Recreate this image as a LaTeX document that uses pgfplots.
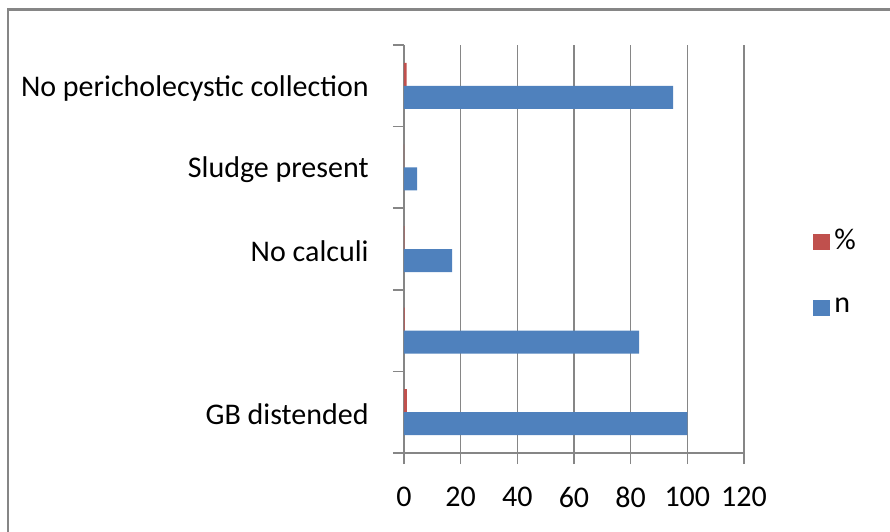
\documentclass[border=0pt]{standalone}
\usepackage{fontspec}
\setmainfont{Carlito}
\usepackage{pgfplots}
\pgfplotsset{compat=1.18}
\definecolor{exred}{HTML}{C0504D}
\definecolor{exblue}{HTML}{4F81BD}
\definecolor{axgray}{HTML}{868686}
\begin{document}
\fontsize{15pt}{18pt}\selectfont
\begin{tikzpicture}
\useasboundingbox (-202pt,-39pt) rectangle (243pt,226.5pt);
\begin{axis}[
  at={(0,0)}, anchor=south west,
  scale only axis, width=170pt, height=204pt,
  xbar, bar width=11.5pt,
  xmin=0, xmax=120, ymin=-0.5, ymax=4.5,
  xtick={0,20,...,120},
  ytick={0,1,2,3,4},
  yticklabels={GB distended,,No calculi,Sludge present,No pericholecystic collection},
  minor ytick={-0.5,0.5,1.5,2.5,3.5,4.5},
  tick align=outside,
  major tick length=5.5pt, minor tick length=5.5pt,
  major y tick style={draw=none},
  minor y tick style={draw=axgray, line width=0.8pt},
  major x tick style={draw=axgray, line width=0.8pt},
  axis x line*=bottom, axis y line*=left,
  axis line style={draw=axgray, line width=0.8pt, -},
  xmajorgrids, major grid style={draw=axgray, line width=0.8pt},
  tick label style={font=\fontsize{15pt}{18pt}\selectfont, text=black},
  /pgf/number format/assume math mode=true,
  yticklabel style={xshift=-7pt, yshift=-1.2pt},
  xticklabel style={yshift=-6.5pt},
  legend style={at={(1.185,0.44)}, anchor=west, draw=none, fill=none,
    font=\fontsize{15pt}{18pt}\selectfont, row sep=18pt,
    /tikz/every even column/.append style={column sep=2pt}},
  legend cell align=left,
  legend image code/.code={\fill[#1] (0pt,-4.2pt) rectangle (8.5pt,4.2pt);},
]
\addplot[fill=exred, draw=none, bar shift=5.75pt] coordinates {(1,0) (0.2,1) (0.17,2) (0.05,3) (0.95,4)};
\addplot[fill=exblue, draw=none, bar shift=-5.75pt] coordinates {(100,0) (83,1) (17,2) (4.6,3) (95,4)};
\legend{\%,n}
\end{axis}
\draw[axgray, line width=1.3pt] (-198pt,-45pt) -- (-198pt,221.75pt) -- (250pt,221.75pt);
\end{tikzpicture}
\end{document}
